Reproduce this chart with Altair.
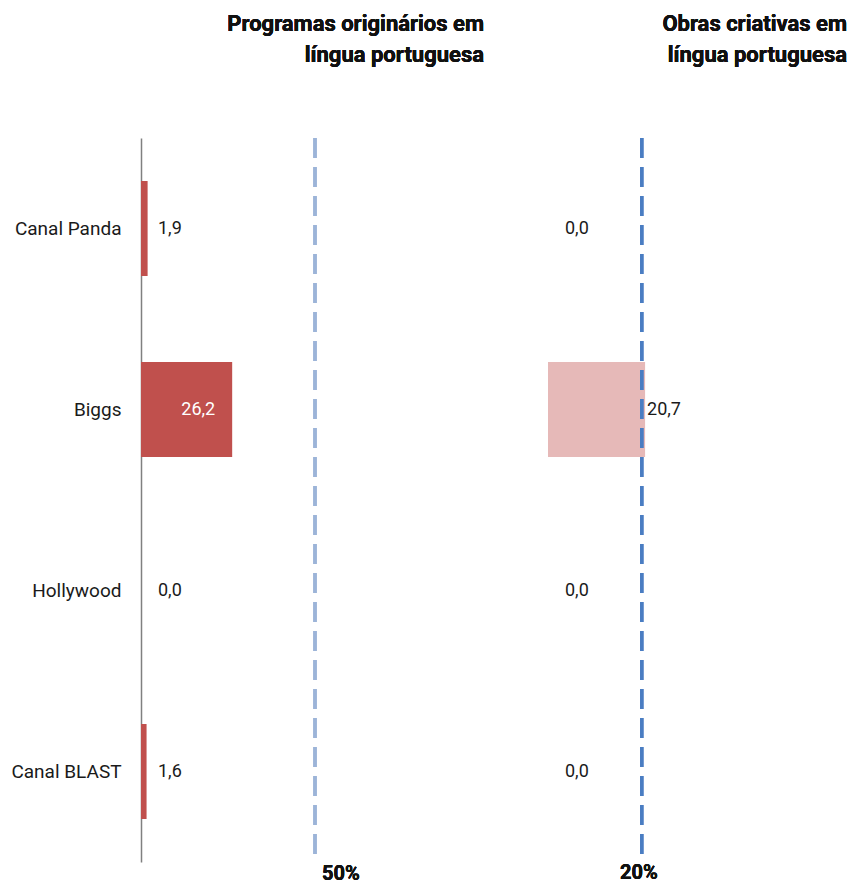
import altair as alt
import pandas as pd

categories = ["Canal Panda", "Biggs", "Hollywood", "Canal BLAST"]
programas = [1.9, 26.2, 0.0, 1.6]
obras = [0.0, 20.7, 0.0, 0.0]
meta_programas = 50
meta_obras = 20
title_left = ["Programas originários em", "língua portuguesa"]
title_right = ["Obras criativas em", "língua portuguesa"]

df = pd.DataFrame({"cat": categories, "prog": programas, "obras": obras})

W, H = 707, 724
FONT = "Roboto"

sx_left = alt.Scale(domain=[0, 50], range=[0, 174])
sx_right = alt.Scale(domain=[0, 20], range=[407, 500.8])

y_enc = alt.Y("cat:N", sort=categories,
              scale=alt.Scale(paddingInner=0.475, paddingOuter=0.2375),
              axis=alt.Axis(title=None, ticks=False, labelPadding=20,
                            labelFontSize=19, labelFont=FONT, labelColor="#1a1a1a",
                            domainColor="#808080", domainWidth=1.5, grid=False))

base = alt.Chart(df).transform_calculate(
    lp="replace(format(datum.prog, '.1f'), '.', ',')",
    lo="replace(format(datum.obras, '.1f'), '.', ',')",
    zero="0",
)

bars_left = base.mark_bar(color="#c0504d").encode(
    x=alt.X("prog:Q", scale=sx_left, axis=None), y=y_enc)
bars_right = base.mark_bar(color="#e6b9b8").encode(
    x=alt.X("obras:Q", scale=sx_right, axis=None), y=y_enc)

LBL = 18
lbl_left_small = base.transform_filter("datum.prog < 10").mark_text(
    align="left", dx=17, fontSize=LBL, font=FONT, color="#1a1a1a").encode(
    x=alt.X("zero:Q", scale=sx_left, axis=None), y=y_enc, text="lp:N")
lbl_left_big = base.transform_filter("datum.prog >= 10").mark_text(
    align="right", dx=-17, fontSize=LBL, font=FONT, color="white").encode(
    x=alt.X("prog:Q", scale=sx_left, axis=None), y=y_enc, text="lp:N")

lbl_right_small = base.transform_filter("datum.obras < 10").mark_text(
    align="left", dx=17, fontSize=LBL, font=FONT, color="#1a1a1a").encode(
    x=alt.X("zero:Q", scale=sx_right, axis=None), y=y_enc, text="lo:N")
lbl_right_big = base.transform_filter("datum.obras >= 10").mark_text(
    align="left", dx=2, fontSize=LBL, font=FONT, color="#1a1a1a").encode(
    x=alt.X("obras:Q", scale=sx_right, axis=None), y=y_enc, text="lo:N")

rule_left = alt.Chart(df).mark_rule(color="#9cb4d8", strokeWidth=3, strokeDash=[20, 9]).encode(
    x=alt.X(datum=meta_programas, type="quantitative", scale=sx_left, axis=None))
rule_right = alt.Chart(df).mark_rule(color="#4a7dc2", strokeWidth=3, strokeDash=[20, 9]).encode(
    x=alt.X(datum=meta_obras, type="quantitative", scale=sx_right, axis=None))

txt_left = alt.Chart(df).mark_text(align="left", baseline="top", dx=7, fontSize=20,
                                   fontWeight="bold", font=FONT, color="#111").encode(
    x=alt.X(datum=meta_programas, type="quantitative", scale=sx_left, axis=None),
    y=alt.value(H + 2), text=alt.value(f"{meta_programas}%"))
txt_right = alt.Chart(df).mark_text(align="center", baseline="top", dx=-3, fontSize=20,
                                    fontWeight="bold", font=FONT, color="#111").encode(
    x=alt.X(datum=meta_obras, type="quantitative", scale=sx_right, axis=None),
    y=alt.value(H + 1), text=alt.value(f"{meta_obras}%"))

title_l = alt.Chart(df).mark_text(align="right", baseline="middle", fontSize=22,
                                  fontWeight="bold", font=FONT, color="#111", lineHeight=31).encode(
    x=alt.value(343), y=alt.value(-114), text=alt.value(title_left))
title_r = alt.Chart(df).mark_text(align="right", baseline="middle", fontSize=22,
                                  fontWeight="bold", font=FONT, color="#111", lineHeight=31).encode(
    x=alt.value(W - 1), y=alt.value(-114), text=alt.value(title_right))

chart = alt.layer(
    bars_left, bars_right, rule_left, rule_right,
    lbl_left_small, lbl_left_big, lbl_right_small, lbl_right_big,
    txt_left, txt_right, title_l, title_r,
).resolve_scale(x="independent").properties(
    width=W, height=H,
    autosize=alt.AutoSizeParams(type="none"),
    padding={"left": 133, "top": 130, "right": 0, "bottom": 30},
).configure_view(stroke=None)

chart.save("out.html", embed_options={"renderer": "svg", "actions": False})
